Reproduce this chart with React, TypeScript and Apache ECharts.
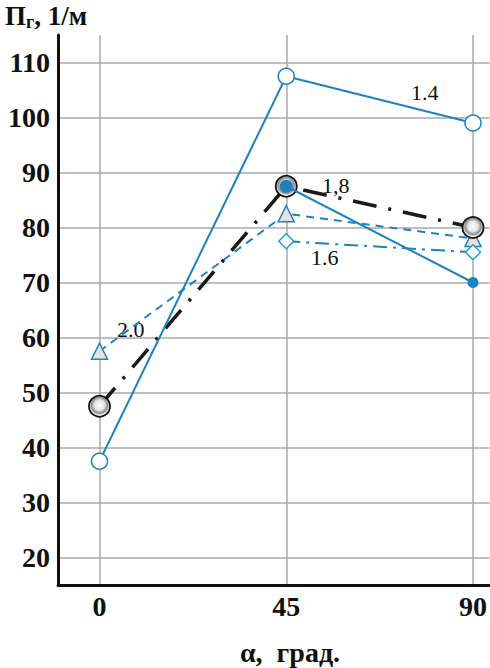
import React, { useEffect, useRef } from "react";
import * as echarts from "echarts";

const xValues = [0, 45, 90];
const yTicks = [20, 30, 40, 50, 60, 70, 80, 90, 100, 110];
const s14 = [37.5, 107.5, 99];
const s18 = [null, 87.5, 70];
const sBlack = [47.5, 87.5, 80];
const s20 = [57.5, 82.5, 78];
const s16 = [null, 77.5, 75.5];

const BLUE = "#1f82c0";
const CYAN = "#1aa6c8";
const FONT = "'Liberation Serif', 'Times New Roman', serif";

const pairs = (arr: (number | null)[]) => xValues.map((x, i) => [x, arr[i]]);

export default function App() {
  const ref = useRef<HTMLDivElement>(null);
  useEffect(() => {
    document.body.style.margin = "0";
    const chart = echarts.init(ref.current!, null, { renderer: "svg" });
    const small = { fontFamily: FONT, fontSize: 22, fill: "#111" };
    const option: any = {
      animation: false,
      backgroundColor: "#fff",
      grid: { left: 58, right: 0, top: 35, bottom: 83 },
      xAxis: {
        type: "value",
        min: -10,
        max: 94,
        axisLine: { show: true, onZero: false, lineStyle: { color: "#111", width: 3 } },
        axisTick: { show: false, customValues: xValues },
        axisLabel: {
          customValues: xValues,
          fontFamily: FONT,
          fontWeight: "bold",
          fontSize: 28,
          color: "#111",
          margin: 7,
        },
        splitLine: { show: true, lineStyle: { color: "#aaa", width: 1.5 } },
      },
      yAxis: {
        type: "value",
        min: 15,
        max: 115,
        axisLine: { show: true, onZero: false, lineStyle: { color: "#111", width: 3 } },
        axisTick: { show: false, customValues: yTicks },
        axisLabel: {
          customValues: yTicks,
          fontFamily: FONT,
          fontWeight: "bold",
          fontSize: 28,
          color: "#111",
          margin: 8,
        },
        splitLine: { show: true, lineStyle: { color: "#aaa", width: 1.5 } },
      },
      graphic: [
        {
          type: "text",
          left: 5,
          top: 2,
          style: {
            text: "{a|П}{b|г}{a|, 1/м}",
            rich: {
              a: { fontFamily: FONT, fontWeight: "bold", fontSize: 27, fill: "#111" },
              b: { fontFamily: FONT, fontWeight: "bold", fontSize: 18, fill: "#111", padding: [13, 0, 0, 0] },
            },
          },
        },
        {
          type: "text",
          x: 290,
          y: 652,
          style: {
            text: "α,  град.",
            fontFamily: FONT,
            fontWeight: "bold",
            fontSize: 28,
            fill: "#111",
            align: "center",
            verticalAlign: "middle",
          },
        },
        { type: "text", x: 411, y: 81, style: { text: "1.4", ...small } },
        { type: "text", x: 322, y: 174, style: { text: "1,8", ...small } },
        { type: "text", x: 311, y: 246, style: { text: "1.6", ...small } },
        { type: "text", x: 117, y: 318, style: { text: "2.0", ...small } },
      ],
      series: [
        {
          name: "2.0",
          type: "line",
          data: pairs(s20),
          symbol: "triangle",
          symbolSize: 16,
          lineStyle: { color: BLUE, width: 2, type: [8, 6] },
          itemStyle: { color: "#e4e4dc", borderColor: BLUE, borderWidth: 1.5 },
          z: 2,
        },
        {
          name: "1.6",
          type: "line",
          data: pairs(s16),
          symbol: "diamond",
          symbolSize: 15,
          lineStyle: { color: BLUE, width: 2, type: [14, 6, 3, 6] },
          itemStyle: { color: "#fff", borderColor: CYAN, borderWidth: 1.5 },
          z: 2,
        },
        {
          name: "black",
          type: "line",
          data: pairs(sBlack),
          symbol: "circle",
          symbolSize: 21,
          lineStyle: { color: "#1a1a1a", width: 3.5, type: [24, 12, 3, 12] },
          itemStyle: {
            color: {
              type: "radial",
              x: 0.5,
              y: 0.45,
              r: 0.55,
              colorStops: [
                { offset: 0, color: "#ffffff" },
                { offset: 0.45, color: "#e2e2e2" },
                { offset: 0.7, color: "#8a8a8a" },
                { offset: 0.85, color: "#f2f2f2" },
                { offset: 1, color: "#ffffff" },
              ],
            },
            borderColor: "#111",
            borderWidth: 1.8,
          },
          z: 3,
        },
        {
          name: "1.4",
          type: "line",
          data: pairs(s14),
          symbol: "circle",
          symbolSize: 16,
          lineStyle: { color: BLUE, width: 2 },
          itemStyle: { color: "#fff", borderColor: BLUE, borderWidth: 1.5 },
          z: 4,
        },
        {
          name: "1.8",
          type: "line",
          data: pairs(s18),
          symbol: "circle",
          symbolSize: (_v: any, p: any) => (p.dataIndex === 1 ? 13 : 11),
          lineStyle: { color: BLUE, width: 2 },
          itemStyle: { color: BLUE, borderColor: BLUE, borderWidth: 0 },
          z: 5,
        },
      ],
    };
    chart.setOption(option);
    return () => chart.dispose();
  }, []);
  return <div ref={ref} style={{ width: 490, height: 668 }} />;
}
